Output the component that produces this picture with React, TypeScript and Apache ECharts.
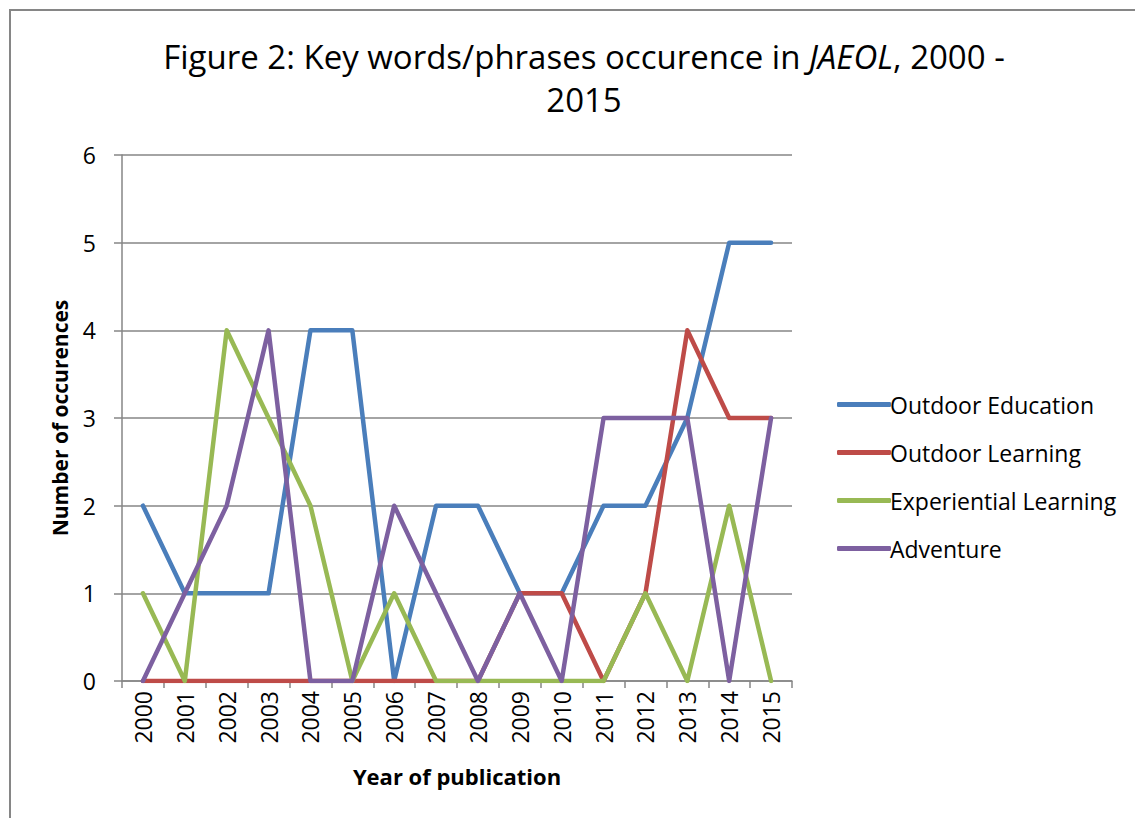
import React, { useEffect, useRef } from "react";
import * as echarts from "echarts";

const years = ["2000","2001","2002","2003","2004","2005","2006","2007","2008","2009","2010","2011","2012","2013","2014","2015"];
const outdoorEducation = [2,1,1,1,4,4,0,2,2,1,1,2,2,3,5,5];
const outdoorLearning = [0,0,0,0,0,0,0,0,0,1,1,0,1,4,3,3];
const experientialLearning = [1,0,4,3,2,0,1,0,0,0,0,0,1,0,2,0];
const adventure = [0,1,2,4,0,0,2,1,0,1,0,3,3,3,0,3];
const yTicks = { min: 0, max: 6, interval: 1 };

const FONT = "'Open Sans', sans-serif";
const GRAY = "#868686";

export default function App() {
  const ref = useRef<HTMLDivElement>(null);
  useEffect(() => {
    const chart = echarts.init(ref.current!, null, { renderer: "svg" });
    const mk = (name: string, data: number[], color: string) => ({
      name,
      type: "line",
      data,
      symbol: "none",
      color,
      lineStyle: { width: 4.5, color, cap: "round", join: "round" },
    });
    chart.setOption({
      animation: false,
      backgroundColor: "#ffffff",
      textStyle: { fontFamily: FONT },
      title: {
        text: "Figure 2: Key words/phrases occurence in {i|JAEOL}, 2000 -\n2015",
        left: 579,
        top: 30,
        textAlign: "center",
        textStyle: {
          fontFamily: FONT,
          fontSize: 33,
          fontWeight: "normal",
          color: "#000",
          lineHeight: 43,
          rich: {
            i: { fontFamily: FONT, fontSize: 33, fontStyle: "italic", color: "#000", lineHeight: 43 },
          },
        },
      },
      graphic: [
        {
          type: "polyline",
          shape: { points: [[10, 818], [10, 10], [1135, 10]] },
          style: { stroke: GRAY, lineWidth: 2, fill: null },
        },
      ],
      legend: {
        orient: "vertical",
        left: 832,
        top: 388,
        itemWidth: 54,
        itemHeight: 5,
        itemGap: 25,
        icon: "roundRect",
        textStyle: { fontFamily: FONT, fontSize: 23, color: "#000", padding: [0, 0, 0, -6] },
        data: ["Outdoor Education", "Outdoor Learning", "Experiential Learning", "Adventure"],
      },
      grid: { left: 122, top: 155, width: 670, height: 526, containLabel: false },
      xAxis: {
        type: "category",
        data: years,
        boundaryGap: true,
        name: "Year of publication",
        nameLocation: "middle",
        nameGap: 84,
        nameTextStyle: { fontFamily: FONT, fontSize: 22, fontWeight: "bold", color: "#000" },
        axisLine: { lineStyle: { color: GRAY, width: 1.5 } },
        axisTick: { show: true, length: 7, lineStyle: { color: GRAY, width: 1.5 }, alignWithLabel: false },
        axisLabel: { rotate: 90, fontFamily: FONT, fontSize: 23, color: "#000", margin: 10, interval: 0 },
        splitLine: { show: false },
      },
      yAxis: {
        type: "value",
        min: yTicks.min,
        max: yTicks.max,
        interval: yTicks.interval,
        name: "Number of occurences",
        nameLocation: "middle",
        nameGap: 52,
        nameTextStyle: { fontFamily: FONT, fontSize: 21, fontWeight: "bold", color: "#000" },
        axisLine: { show: true, lineStyle: { color: GRAY, width: 1.5 } },
        axisTick: { show: true, length: 8, lineStyle: { color: GRAY, width: 1.5 } },
        axisLabel: { fontFamily: FONT, fontSize: 23, color: "#000", margin: 26 },
        splitLine: { show: true, lineStyle: { color: GRAY, width: 1.5 } },
      },
      series: [
        mk("Outdoor Education", outdoorEducation, "#4a7ebb"),
        mk("Outdoor Learning", outdoorLearning, "#be4b48"),
        mk("Experiential Learning", experientialLearning, "#98b954"),
        mk("Adventure", adventure, "#7d60a0"),
      ],
    });
    return () => chart.dispose();
  }, []);
  return (
    <div
      ref={ref}
      style={{ position: "absolute", left: 0, top: 0, width: 1135, height: 818 }}
    />
  );
}
